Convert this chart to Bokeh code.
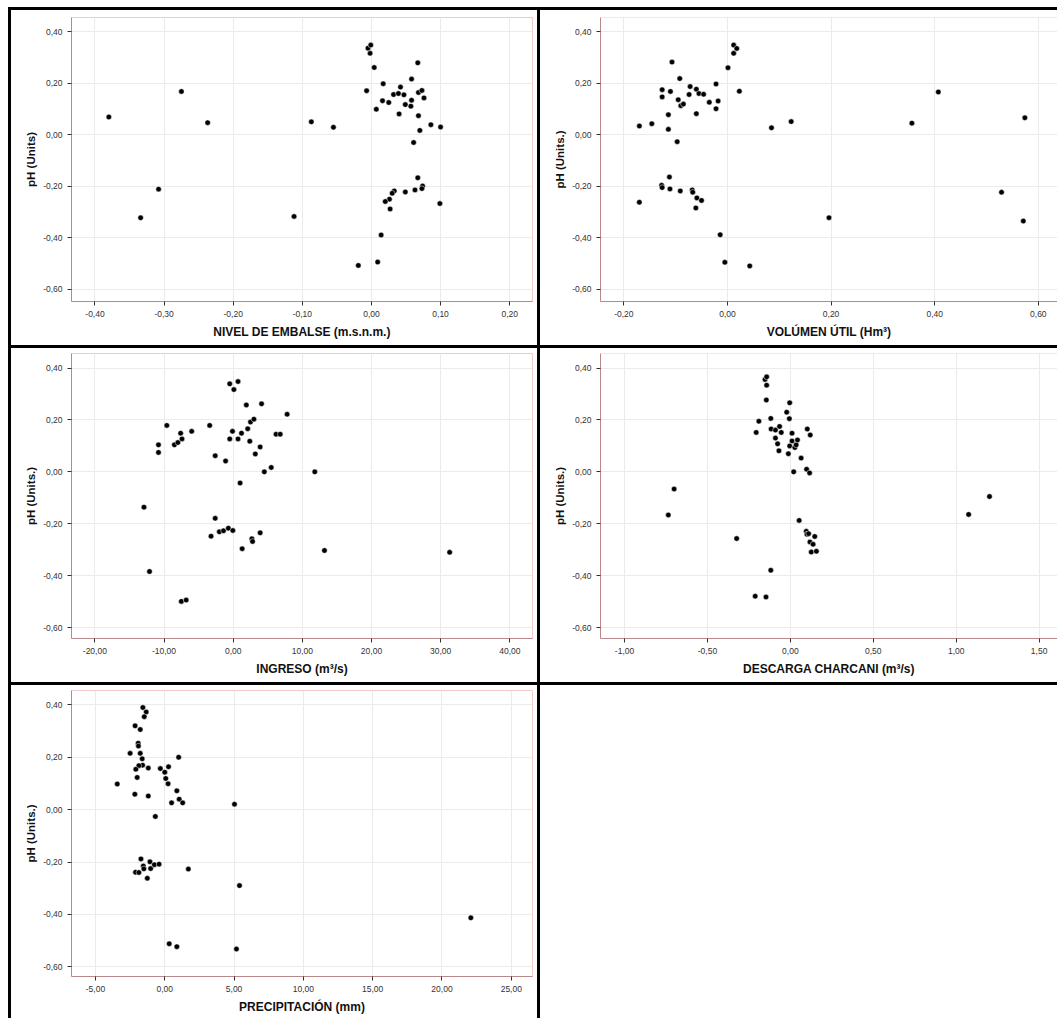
from bokeh.plotting import figure
from bokeh.models import GridBox, FixedTicker, CustomJSTickFormatter, Span, Range1d, Spacer
from bokeh.layouts import column, row
from bokeh.embed import file_html
from bokeh.resources import INLINE

# ---------------- data ----------------
nivel_embalse = [-0.380, -0.275, -0.237, -0.334, -0.308, -0.087, -0.055, -0.112, -0.019, 0.009,
                 0.014, -0.005, -0.001, -0.002, 0.004, -0.007, 0.017, 0.007, 0.016, 0.025,
                 0.032, 0.039, 0.042, 0.040, 0.047, 0.049, 0.058, 0.058, 0.057, 0.067,
                 0.068, 0.073, 0.076, 0.068, 0.070, 0.086, 0.100, 0.061, 0.067, 0.074,
                 0.073, 0.063, 0.049, 0.033, 0.030, 0.026, 0.020, 0.027, 0.099]
ph_nivel = [0.069, 0.168, 0.047, -0.322, -0.211, 0.050, 0.029, -0.317, -0.507, -0.494,
            -0.389, 0.336, 0.348, 0.316, 0.261, 0.171, 0.198, 0.099, 0.132, 0.125,
            0.156, 0.160, 0.185, 0.081, 0.155, 0.117, 0.216, 0.134, 0.111, 0.279,
            0.164, 0.172, 0.143, 0.074, 0.017, 0.039, 0.030, -0.030, -0.167, -0.199,
            -0.209, -0.214, -0.222, -0.218, -0.227, -0.250, -0.259, -0.288, -0.267]

volumen_util = [-0.170, -0.146, -0.170, -0.126, -0.126, -0.114, -0.114, -0.110, -0.107, -0.097,
                -0.095, -0.092, -0.090, -0.085, -0.074, -0.072, -0.060, -0.055, -0.046, -0.060,
                -0.035, -0.022, -0.018, -0.022, 0.001, 0.012, 0.012, 0.018, 0.023, 0.085,
                0.123, 0.356, 0.407, 0.574, 0.529, 0.571, 0.196, -0.112, -0.127, -0.126,
                -0.111, -0.091, -0.068, -0.067, -0.059, -0.050, -0.061, -0.014, -0.005, 0.043]
ph_volumen = [0.034, 0.043, -0.262, 0.175, 0.147, 0.078, 0.021, 0.168, 0.282, -0.027,
              0.136, 0.218, 0.113, 0.119, 0.156, 0.187, 0.177, 0.160, 0.157, 0.082,
              0.126, 0.197, 0.131, 0.101, 0.260, 0.348, 0.316, 0.335, 0.169, 0.027,
              0.051, 0.045, 0.166, 0.066, -0.223, -0.335, -0.322, -0.164, -0.196, -0.205,
              -0.210, -0.218, -0.214, -0.223, -0.245, -0.255, -0.284, -0.388, -0.495, -0.509]

ingreso = [-12.9, -12.1, -10.8, -10.8, -9.6, -8.5, -8.0, -7.6, -7.4, -6.0,
           -7.5, -6.8, -3.4, -2.6, -1.1, -0.5, -0.5, 0.1, -0.1, 0.7,
           0.7, 1.2, 1.0, 1.9, 2.1, 2.4, 2.5, 3.0, 3.2, 3.9,
           4.1, 4.5, 5.5, 6.2, 6.8, 7.8, 11.8, -2.6, -3.2, -2.0,
           -1.4, -0.7, -0.05, 1.3, 2.7, 2.8, 3.9, 13.2, 31.3]
ph_ingreso = [-0.136, -0.384, 0.104, 0.075, 0.179, 0.104, 0.113, 0.149, 0.127, 0.156,
              -0.499, -0.494, 0.179, 0.062, 0.042, 0.127, 0.339, 0.317, 0.156, 0.127,
              0.348, 0.149, -0.043, 0.258, 0.166, 0.118, 0.192, 0.203, 0.069, 0.096,
              0.262, 0.000, 0.017, 0.145, 0.145, 0.222, 0.000, -0.179, -0.248, -0.231,
              -0.227, -0.217, -0.226, -0.296, -0.258, -0.268, -0.235, -0.303, -0.310]

descarga = [-0.736, -0.701, -0.324, -0.212, -0.147, -0.118, -0.206, -0.190, -0.153, -0.143,
            -0.143, -0.145, -0.118, -0.116, -0.090, -0.090, -0.077, -0.065, -0.055, -0.069,
            -0.022, -0.004, -0.006, -0.012, -0.004, 0.010, 0.010, 0.027, 0.035, 0.043,
            0.020, 0.065, 0.102, 0.120, 0.098, 0.116, 0.053, 0.096, 0.100, 0.110,
            0.118, 0.137, 0.147, 0.126, 0.157, 1.075, 1.201]
ph_descarga = [-0.166, -0.066, -0.257, -0.479, -0.482, -0.379, 0.152, 0.195, 0.356, 0.366,
               0.334, 0.277, 0.206, 0.165, 0.161, 0.130, 0.108, 0.175, 0.152, 0.081,
               0.230, 0.266, 0.205, 0.070, 0.100, 0.149, 0.119, 0.094, 0.104, 0.123,
               0.000, 0.053, 0.165, 0.142, 0.010, -0.004, -0.187, -0.229, -0.240, -0.238,
               -0.270, -0.279, -0.249, -0.309, -0.306, -0.164, -0.095]

precipitacion = [-3.43, -2.50, -2.14, -1.77, -1.92, -1.90, -1.77, -1.63, -1.60, -1.87,
                 -2.09, -1.99, -2.16, -1.58, -1.34, -1.48, -1.19, -1.19, -0.68, -0.32,
                 0.00, 0.07, 0.24, 0.27, 1.00, 0.87, 1.04, 0.49, 1.29, 5.03,
                 -1.72, -1.55, -1.51, -2.11, -1.87, -1.07, -1.02, -0.75, -0.41, -1.26,
                 1.70, 5.39, 0.32, 0.87, 5.17, 22.08]
ph_precipitacion = [0.098, 0.215, 0.320, 0.306, 0.254, 0.243, 0.215, 0.194, 0.170, 0.168,
                    0.154, 0.123, 0.059, 0.390, 0.373, 0.355, 0.159, 0.052, -0.026, 0.157,
                    0.143, 0.119, 0.099, 0.164, 0.200, 0.072, 0.040, 0.026, 0.026, 0.021,
                    -0.188, -0.215, -0.226, -0.239, -0.240, -0.199, -0.225, -0.210, -0.208, -0.262,
                    -0.227, -0.290, -0.512, -0.523, -0.532, -0.413]

y_ticks = [-0.6, -0.4, -0.2, 0.0, 0.2, 0.4]
ticks_nivel = [-0.4, -0.3, -0.2, -0.1, 0.0, 0.1, 0.2]
ticks_volumen = [-0.2, 0.0, 0.2, 0.4, 0.6]
ticks_ingreso = [-20, -10, 0, 10, 20, 30, 40]
ticks_descarga = [-1.0, -0.5, 0.0, 0.5, 1.0, 1.5]
ticks_precip = [-5, 0, 5, 10, 15, 20, 25]

# ---------------- styling ----------------
FONT = "Liberation Sans"
PINK = "#f4c9c9"
AXIS_COL = "#b98888"
GRID_COL = "#ebebeb"


def fmt():
    return CustomJSTickFormatter(
        code="var t = Math.abs(tick) < 1e-9 ? 0 : tick; return t.toFixed(2).replace('.', ',');")


def make_panel(xs, ys, xlabel, ylabel, xr, yr, xticks, width, height, top, bottom, last_col):
    p = figure(width=width, height=height,
               x_range=Range1d(*xr), y_range=Range1d(*yr),
               output_backend="svg", toolbar_location=None,
               min_border_left=60, min_border_right=0 if last_col else 5,
               min_border_top=top, min_border_bottom=bottom,
               background_fill_color="white", border_fill_color="white",
               styles={"background-color": "white"})
    p.scatter(xs, ys, size=5.5, fill_color="black", line_color="white", line_width=0.5)

    p.xaxis.ticker = FixedTicker(ticks=xticks)
    p.yaxis.ticker = FixedTicker(ticks=y_ticks)
    p.xaxis.axis_label = xlabel
    p.yaxis.axis_label = ylabel
    for ax in (p.xaxis[0], p.yaxis[0]):
        ax.formatter = fmt()
        ax.axis_line_color = AXIS_COL
        ax.axis_line_width = 1
        ax.major_tick_line_color = "#333333"
        ax.minor_tick_line_color = None
        ax.major_tick_in = 0
        ax.major_tick_out = 4
        ax.major_label_standoff = 5
        ax.major_label_text_font = FONT
        ax.major_label_text_font_size = "8.5px"
        ax.major_label_text_color = "#333333"
        ax.axis_label_text_font = FONT
        ax.axis_label_text_font_style = "bold"
        ax.axis_label_text_color = "#111111"
    p.xaxis.axis_label_text_font_size = "12px"
    p.xaxis.axis_label_standoff = 5
    p.yaxis.axis_label_text_font_size = "11.5px"
    p.yaxis.axis_label_standoff = 3

    p.xgrid.grid_line_color = GRID_COL
    p.ygrid.grid_line_color = GRID_COL

    if last_col:
        p.outline_line_color = None
        p.add_layout(Span(location=yr[1], dimension="width", line_color=PINK, line_width=1))
    else:
        p.outline_line_color = PINK
    return p


W1, W2 = 526, 517
H1, H2, H3 = 335, 334, 333
YR1, YR2, YR3 = (-0.647, 0.455), (-0.642, 0.456), (-0.637, 0.455)

p1 = make_panel(nivel_embalse, ph_nivel, "NIVEL DE EMBALSE (m.s.n.m.)", "pH (Units)",
                (-0.434, 0.233), YR1, ticks_nivel, W1, H1, 7, 44, False)
p2 = make_panel(volumen_util, ph_volumen, "VOLÚMEN ÚTIL (Hm³)", "pH (Units.)",
                (-0.245, 0.637), YR1, ticks_volumen, W2, H1, 7, 44, True)
p3 = make_panel(ingreso, ph_ingreso, "INGRESO (m³/s)", "pH (Units.)",
                (-23.38, 43.28), YR2, ticks_ingreso, W1, H2, 5, 44, False)
p4 = make_panel(descarga, ph_descarga, "DESCARGA CHARCANI (m³/s)", "pH (Units.)",
                (-1.145, 1.611), YR2, ticks_descarga, W2, H2, 5, 44, True)
p5 = make_panel(precipitacion, ph_precipitacion, "PRECIPITACIÓN (mm)", "pH (Units.)",
                (-6.73, 26.53), YR3, ticks_precip, W1, H3, 5, 42, False)

# empty bottom-right cell (transparent canvas on a white host element)
blank = figure(width=W2, height=H3, x_axis_type=None, y_axis_type=None,
               x_range=Range1d(0, 1), y_range=Range1d(0, 1),
               output_backend="svg", toolbar_location=None,
               min_border_left=0, min_border_right=0, min_border_top=0, min_border_bottom=0,
               styles={"background-color": "white"})
blank.outline_line_color = None
blank.background_fill_color = None
blank.border_fill_color = None
blank.xgrid.visible = False
blank.ygrid.visible = False

grid = GridBox(children=[(Spacer(width=0, height=0), 0, 0),
                         (p1, 1, 1), (p2, 1, 2),
                         (p3, 2, 1), (p4, 2, 2),
                         (p5, 3, 1), (blank, 3, 2)],
               spacing=3, styles={"background-color": "black"})

page = column(Spacer(width=1, height=7), row(Spacer(width=8, height=1), grid))

open("out.html", "w").write(file_html(page, INLINE))
